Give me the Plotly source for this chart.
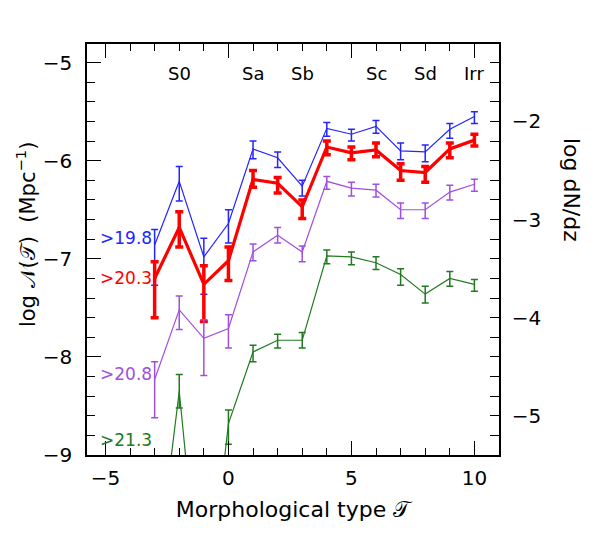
import plotly.graph_objects as go

# morphological type T
types = [-3, -2, -1, 0, 1, 2, 3, 4, 5, 6, 7, 8, 9, 10]

# log N(T) per magnitude limit: point, upper end and lower end of the error bar
blue_y = [-6.86, -6.21, -6.98, -6.64, -5.88, -5.97, -6.26, -5.67, -5.73, -5.65, -5.90, -5.91, -5.68, -5.55]
blue_hi = [-6.70, -6.06, -6.79, -6.50, -5.80, -5.91, -6.20, -5.61, -5.68, -5.59, -5.82, -5.84, -5.62, -5.50]
blue_lo = [-7.27, -6.41, -7.36, -6.84, -5.98, -6.07, -6.36, -5.75, -5.80, -5.72, -5.99, -6.01, -5.77, -5.62]

red_y = [-7.20, -6.68, -7.26, -7.02, -6.19, -6.23, -6.47, -5.86, -5.92, -5.89, -6.10, -6.12, -5.88, -5.79]
red_hi = [-7.03, -6.52, -7.07, -6.88, -6.10, -6.17, -6.40, -5.80, -5.86, -5.82, -6.03, -6.06, -5.82, -5.73]
red_lo = [-7.60, -6.88, -7.64, -7.22, -6.27, -6.33, -6.59, -5.94, -5.99, -5.96, -6.20, -6.22, -5.97, -5.85]

purple_y = [-8.23, -7.52, -7.81, -7.71, -6.93, -6.76, -6.93, -6.21, -6.28, -6.30, -6.50, -6.50, -6.32, -6.24]
purple_hi = [-8.05, -7.38, -7.62, -7.57, -6.85, -6.68, -6.87, -6.16, -6.22, -6.24, -6.43, -6.43, -6.25, -6.19]
purple_lo = [-8.62, -7.72, -8.19, -7.91, -7.02, -6.84, -7.03, -6.29, -6.36, -6.37, -6.59, -6.59, -6.40, -6.31]

green_y = [-10.40, -8.35, -10.90, -8.68, -7.95, -7.83, -7.83, -6.97, -6.98, -7.04, -7.16, -7.36, -7.20, -7.26]
green_hi = [None, -8.18, None, -8.54, -7.88, -7.77, -7.75, -6.91, -6.93, -6.98, -7.10, -7.28, -7.13, -7.21]
green_lo = [None, -8.52, None, -8.89, -8.05, -7.91, -7.91, -7.05, -7.06, -7.11, -7.27, -7.45, -7.28, -7.33]

mag_labels = [">19.8", ">20.3", ">20.8", ">21.3"]
label_y = [-6.79, -7.20, -8.17, -8.85]

type_names = ["S0", "Sa", "Sb", "Sc", "Sd", "Irr"]
type_pos = [-2, 1, 3, 6, 8, 10]

colors = ["#2424ff", "#ff0000", "#a24ee0", "#217a21"]
widths = [1.2, 3.2, 1.2, 1.2]

FONT = "DejaVu Sans"
DN_OFFSET = 3.6  # log dN/dz = log N(T) + 3.6
XR = [-5.75, 11.0]

fig = go.Figure()

series = [
    (blue_y, blue_hi, blue_lo),
    (red_y, red_hi, red_lo),
    (purple_y, purple_hi, purple_lo),
    (green_y, green_hi, green_lo),
]
for i, (ys, his, los) in enumerate(series):
    up = [h - y if h is not None else float("nan") for y, h in zip(ys, his)]
    down = [y - l if l is not None else float("nan") for y, l in zip(ys, los)]
    fig.add_trace(
        go.Scatter(
            x=types,
            y=ys,
            mode="lines",
            line=dict(color=colors[i], width=widths[i]),
            error_y=dict(
                type="data",
                symmetric=False,
                array=up,
                arrayminus=down,
                color=colors[i],
                thickness=widths[i] + 0.3,
                width=4 if i == 1 else 3.5,
            ),
            showlegend=False,
        )
    )

# invisible traces to carry the right-hand axis and the top tick axis
fig.add_trace(
    go.Scatter(x=[types[0]], y=[blue_y[0] + DN_OFFSET], yaxis="y2",
               mode="lines", line=dict(width=0), showlegend=False,
               hoverinfo="skip")
)
fig.add_trace(
    go.Scatter(x=[types[0]], y=[blue_y[0]], xaxis="x2",
               mode="lines", line=dict(width=0), showlegend=False,
               hoverinfo="skip")
)

for lab, ly, c in zip(mag_labels, label_y, colors):
    fig.add_annotation(x=-5.3, y=ly, text=lab, showarrow=False, xanchor="left",
                       font=dict(family=FONT, size=17, color=c))

for name, xp in zip(type_names, type_pos):
    fig.add_annotation(x=xp, y=-5.11, text=name, showarrow=False,
                       font=dict(family=FONT, size=18, color="black"))

fig.add_annotation(xref="paper", yref="paper", x=0, y=0.535, xshift=-61,
                   xanchor="center", yanchor="middle",
                   text="log \U0001D4A9(\U0001D4AF)  (Mpc<sup>\u22121</sup>)",
                   textangle=-90, showarrow=False,
                   font=dict(family=FONT, size=21, color="black"))
fig.add_annotation(xref="paper", yref="paper", x=1, y=0.645, xshift=72,
                   xanchor="center", yanchor="middle",
                   text="log dN/dz", textangle=90, showarrow=False,
                   font=dict(family=FONT, size=22, color="black"))

ymin, ymax = -9, -4.81
tick_common = dict(tickwidth=1.2, tickcolor="black", showgrid=False, zeroline=False)
fig.update_layout(
    width=598,
    height=547,
    margin=dict(l=79, r=107, t=36, b=100),
    plot_bgcolor="white",
    paper_bgcolor="white",
    font=dict(family=FONT, size=20, color="black"),
    xaxis=dict(
        range=XR, tickmode="linear", tick0=0, dtick=5,
        ticks="inside", ticklen=14,
        minor=dict(dtick=1, tick0=0, ticks="inside", ticklen=7, tickcolor="black", tickwidth=1.2),
        showline=True, linecolor="black", linewidth=1.5,
        ticklabelstandoff=4,
        title=dict(text="Morphological type \U0001D4AF", font=dict(size=22), standoff=13),
        **tick_common,
    ),
    xaxis2=dict(
        range=XR, overlaying="x", side="top", tickmode="linear", tick0=0, dtick=5,
        ticks="inside", ticklen=14, showticklabels=False,
        minor=dict(dtick=1, tick0=0, ticks="inside", ticklen=7, tickcolor="black", tickwidth=1.2),
        showline=True, linecolor="black", linewidth=1.5,
        **tick_common,
    ),
    yaxis=dict(
        range=[ymin, ymax], tickmode="linear", tick0=0, dtick=1,
        ticks="inside", ticklen=14,
        minor=dict(dtick=0.2, tick0=0, ticks="inside", ticklen=8, tickcolor="black", tickwidth=1.2),
        showline=True, linecolor="black", linewidth=1.5,
        ticklabelstandoff=9,
        **tick_common,
    ),
    yaxis2=dict(
        range=[ymin + DN_OFFSET, ymax + DN_OFFSET], overlaying="y", side="right",
        tickmode="linear", tick0=0, dtick=1,
        ticks="inside", ticklen=9,
        minor=dict(dtick=0.2, tick0=0, ticks="inside", ticklen=9, tickcolor="black", tickwidth=1.2),
        showline=True, linecolor="black", linewidth=1.5,
        ticklabelstandoff=7,
        **tick_common,
    ),
)

fig.write_html("out.html")
